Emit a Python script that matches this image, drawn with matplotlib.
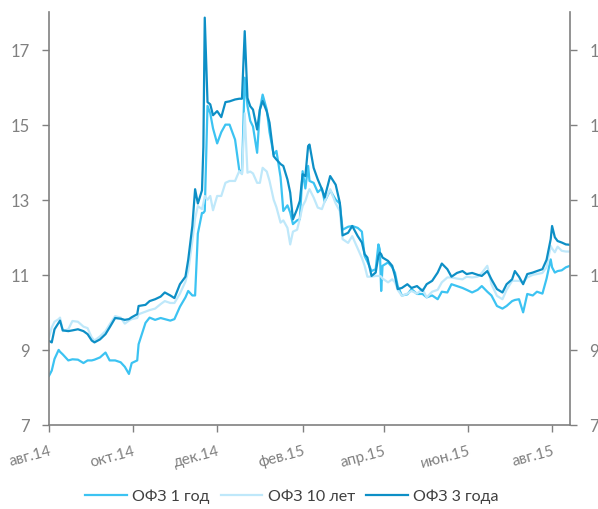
import matplotlib
matplotlib.use('Agg')  # no display here

import pandas as pd
import matplotlib.pyplot as plt

# OFZ yields, %
dates = [
    '2014-08-01', '2014-08-03', '2014-08-05', '2014-08-08', '2014-08-09', '2014-08-11',
    '2014-08-15', '2014-08-18', '2014-08-22', '2014-08-26', '2014-08-29', '2014-09-01',
    '2014-09-03', '2014-09-07', '2014-09-11', '2014-09-14', '2014-09-18', '2014-09-22',
    '2014-09-25', '2014-09-28', '2014-09-30', '2014-10-04', '2014-10-05', '2014-10-10',
    '2014-10-13', '2014-10-17', '2014-10-21', '2014-10-24', '2014-10-28', '2014-10-31',
    '2014-11-04', '2014-11-08', '2014-11-10', '2014-11-13', '2014-11-15', '2014-11-17',
    '2014-11-20', '2014-11-21', '2014-11-22', '2014-11-24', '2014-11-26', '2014-11-28',
    '2014-12-01', '2014-12-04', '2014-12-07', '2014-12-10', '2014-12-14', '2014-12-17',
    '2014-12-19', '2014-12-21', '2014-12-23', '2014-12-25', '2014-12-27', '2014-12-30',
    '2015-01-01', '2015-01-03', '2015-01-06', '2015-01-08', '2015-01-11', '2015-01-13',
    '2015-01-16', '2015-01-18', '2015-01-21', '2015-01-23', '2015-01-25', '2015-01-28',
    '2015-01-30', '2015-02-01', '2015-02-03', '2015-02-05', '2015-02-06', '2015-02-09',
    '2015-02-12', '2015-02-15', '2015-02-17', '2015-02-21', '2015-02-25', '2015-02-28',
    '2015-03-02', '2015-03-06', '2015-03-09', '2015-03-13', '2015-03-16', '2015-03-18',
    '2015-03-20', '2015-03-23', '2015-03-26', '2015-03-28', '2015-03-29', '2015-03-30',
    '2015-03-31', '2015-04-04', '2015-04-07', '2015-04-09', '2015-04-11', '2015-04-14',
    '2015-04-18', '2015-04-21', '2015-04-25', '2015-04-29', '2015-05-02', '2015-05-06',
    '2015-05-10', '2015-05-13', '2015-05-17', '2015-05-20', '2015-05-24', '2015-05-28',
    '2015-05-31', '2015-06-04', '2015-06-08', '2015-06-11', '2015-06-15', '2015-06-18',
    '2015-06-22', '2015-06-26', '2015-06-29', '2015-07-03', '2015-07-05', '2015-07-08',
    '2015-07-11', '2015-07-14', '2015-07-18', '2015-07-21', '2015-07-25', '2015-07-28',
    '2015-07-31', '2015-08-01', '2015-08-03', '2015-08-05', '2015-08-08', '2015-08-11',
    '2015-08-14',
]

ofz_1y = [
    8.31, 8.45, 8.76, 9.00, 8.95, 8.88,
    8.72, 8.75, 8.74, 8.65, 8.72, 8.72,
    8.74, 8.80, 8.93, 8.72, 8.72, 8.67,
    8.55, 8.36, 8.65, 8.72, 9.15, 9.72,
    9.86, 9.80, 9.85, 9.82, 9.78, 9.82,
    10.15, 10.40, 10.57, 10.45, 10.45, 12.10,
    12.65, 12.65, 12.70, 15.50, 15.30, 14.90,
    14.50, 14.80, 15.00, 15.00, 14.60, 13.80,
    13.70, 16.25, 15.50, 15.10, 14.95, 14.25,
    15.40, 15.80, 15.40, 14.80, 14.20, 14.30,
    13.60, 12.70, 12.85, 12.66, 12.35, 12.45,
    12.48, 13.76, 13.30, 13.90, 13.50, 13.45,
    13.20, 13.30, 12.95, 13.25, 13.00, 12.90,
    12.20, 12.28, 12.30, 12.25, 12.15, 11.50,
    11.35, 11.10, 11.15, 11.81, 11.68, 10.57,
    11.24, 11.33, 11.20, 11.06, 10.70, 10.45,
    10.48, 10.62, 10.49, 10.49, 10.40, 10.45,
    10.35, 10.55, 10.53, 10.75, 10.70, 10.65,
    10.60, 10.53, 10.60, 10.70, 10.55, 10.45,
    10.17, 10.10, 10.17, 10.30, 10.33, 10.35,
    10.00, 10.49, 10.45, 10.55, 10.50, 10.90,
    11.41, 11.20, 11.06, 11.10, 11.12, 11.20,
    11.24,
]

ofz_10y = [
    9.33, 9.60, 9.75, 9.82, 9.86, 9.50,
    9.55, 9.77, 9.75, 9.62, 9.58, 9.33,
    9.25, 9.36, 9.50, 9.68, 9.90, 9.86,
    9.70, 9.78, 9.82, 9.85, 9.95, 10.02,
    10.06, 10.10, 10.22, 10.30, 10.25, 10.25,
    10.50, 10.82, 11.10, 11.90, 12.50, 12.83,
    12.75, 12.90, 13.10, 13.00, 13.10, 12.72,
    13.10, 13.10, 13.45, 13.50, 13.50, 13.76,
    13.68, 15.30, 13.72, 13.75, 13.70, 13.45,
    13.45, 13.85, 13.75, 13.50, 13.00, 12.80,
    12.39, 12.45, 12.25, 11.81, 12.15, 12.20,
    12.50, 12.83, 12.97, 13.20, 13.28, 13.06,
    12.79, 12.75, 12.95, 13.28, 12.90, 12.70,
    11.95, 11.85, 12.03, 11.70, 11.45, 11.24,
    10.95, 10.95, 10.97, 10.97, 10.97, 10.95,
    10.90, 10.80, 10.88, 10.80, 10.60, 10.44,
    10.50, 10.57, 10.50, 10.62, 10.40, 10.55,
    10.60, 10.80, 10.93, 10.93, 10.90, 10.88,
    10.95, 10.93, 10.95, 11.05, 11.24, 10.75,
    10.44, 10.35, 10.60, 10.84, 10.84, 10.84,
    10.80, 10.93, 11.00, 11.02, 11.05, 11.20,
    11.77, 11.70, 11.60, 11.75, 11.64, 11.62,
    11.62,
]

ofz_3y = [
    9.24, 9.20, 9.55, 9.72, 9.78, 9.52,
    9.50, 9.52, 9.55, 9.50, 9.42, 9.25,
    9.20, 9.28, 9.42, 9.60, 9.85, 9.83,
    9.80, 9.82, 9.87, 9.95, 10.17, 10.20,
    10.30, 10.35, 10.42, 10.53, 10.45, 10.38,
    10.75, 10.95, 11.40, 12.30, 13.28, 12.90,
    13.25, 14.40, 17.85, 15.60, 15.54, 15.25,
    15.36, 15.20, 15.60, 15.62, 15.67, 15.69,
    15.69, 17.49, 15.71, 15.49, 15.40, 14.87,
    15.40, 15.63, 15.35, 15.05, 14.16, 14.07,
    13.95, 13.90, 13.54, 13.19, 12.48, 12.75,
    12.97, 13.68, 13.63, 14.43, 14.47, 13.85,
    13.54, 13.28, 13.06, 13.63, 13.40, 12.92,
    12.05, 12.12, 12.30, 12.03, 11.86, 11.55,
    11.46, 10.97, 11.06, 11.50, 11.59, 11.55,
    11.46, 11.37, 11.24, 10.97, 10.62, 10.65,
    10.75, 10.65, 10.70, 10.57, 10.75, 10.84,
    11.06, 11.30, 11.15, 10.95, 11.05, 11.10,
    11.02, 11.05, 11.00, 10.97, 11.10, 10.88,
    10.62, 10.53, 10.75, 10.88, 11.10, 10.95,
    10.75, 11.02, 11.06, 11.10, 11.15, 11.40,
    11.95, 12.30, 12.00, 11.90, 11.86, 11.81,
    11.80,
]

tick_dates = ['2014-08-01', '2014-10-01', '2014-12-01', '2015-02-01',
              '2015-04-01', '2015-06-01', '2015-08-01']
tick_labels = ['авг.14', 'окт.14', 'дек.14', 'фев.15', 'апр.15', 'июн.15', 'авг.15']
y_ticks = [7, 9, 11, 13, 15, 17]

plt.rcParams['font.family'] = ['Lato', 'DejaVu Sans']
grey = '#808080'

x = pd.to_datetime(dates)

fig = plt.figure(figsize=(5.98, 5.10), dpi=100)
ax = fig.add_axes([49 / 598, 1 - 426 / 510, (570 - 49) / 598, (426 - 13) / 510])

ax.plot(x, ofz_1y, color='#3cc3f2', lw=1.6, label='ОФЗ 1 год')
ax.plot(x, ofz_10y, color='#bfe8fa', lw=1.6, label='ОФЗ 10 лет')
ax.plot(x, ofz_3y, color='#0d8fc6', lw=1.6, label='ОФЗ 3 года')

ax.set_xlim(pd.Timestamp('2014-08-01'), pd.Timestamp('2015-08-14'))
ax.set_ylim(7, 18)
ax.set_yticks(y_ticks)
ax.tick_params(axis='y', colors=grey, labelsize=12, length=5, width=1, pad=9)

ax.set_xticks(pd.to_datetime(tick_dates))
ax.set_xticklabels(tick_labels, rotation=15, ha='right', rotation_mode='anchor')
ax.tick_params(axis='x', colors=grey, labelsize=11, length=5, width=1, pad=8)

for side in ['top', 'right']:
    ax.spines[side].set_visible(False)
for side in ['left', 'bottom']:
    ax.spines[side].set_color(grey)
    ax.spines[side].set_linewidth(1.2)

# right axis duplicates the left one (labels get cut by the figure edge)
ax2 = ax.twinx()
ax2.set_ylim(7, 18)
ax2.set_yticks(y_ticks)
ax2.tick_params(axis='y', colors=grey, labelsize=12, length=5, width=1, pad=9)
for side in ['top', 'left', 'bottom']:
    ax2.spines[side].set_visible(False)
ax2.spines['right'].set_color(grey)
ax2.spines['right'].set_linewidth(1.2)

handles, labels = ax.get_legend_handles_labels()
fig.legend(handles, labels, loc='center', bbox_to_anchor=(292 / 598, 1 - 497 / 510),
           ncol=3, frameon=False, fontsize=11.5, handlelength=2.6,
           handletextpad=0.35, columnspacing=0.7, labelcolor='#404040')

fig.savefig('out.png', dpi=100)
